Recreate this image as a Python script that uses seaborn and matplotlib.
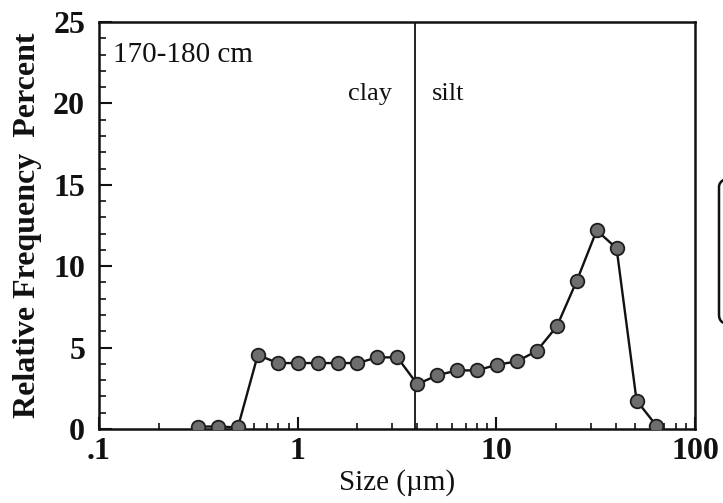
import matplotlib
matplotlib.use("Agg")
import matplotlib.pyplot as plt
from matplotlib.ticker import FixedLocator, FixedFormatter, MultipleLocator, NullFormatter
from matplotlib.patches import FancyBboxPatch
import seaborn as sns
import pandas as pd
import numpy as np

# ---- data ----
size_um = [0.315, 0.397, 0.5, 0.63, 0.794, 1.0, 1.26, 1.587, 2.0, 2.52, 3.175, 4.0,
           5.04, 6.35, 8.0, 10.08, 12.7, 16.0, 20.16, 25.4, 32.0, 40.3, 50.8, 64.0]
rel_freq = [0.15, 0.15, 0.1, 4.55, 4.05, 4.05, 4.05, 4.05, 4.05, 4.4, 4.4, 2.75,
            3.3, 3.6, 3.6, 3.95, 4.15, 4.8, 6.3, 9.1, 12.2, 11.1, 1.75, 0.2]
x_ticks = [0.1, 1, 10, 100]
x_tick_labels = [".1", "1", "10", "100"]
y_ticks = [0, 5, 10, 15, 20, 25]
clay_silt_boundary = 3.9
sample_label = "170-180 cm"

df = pd.DataFrame({"size": size_um, "freq": rel_freq})

sns.set_theme(style="ticks")
plt.rcParams["font.family"] = ["Liberation Serif", "DejaVu Serif"]

fig = plt.figure(figsize=(7.23, 5.03), dpi=100)
ax = fig.add_axes([99 / 723, 1 - 429 / 503, (695 - 99) / 723, (429 - 22) / 503])

sns.lineplot(data=df, x="size", y="freq", ax=ax, color="#111111", linewidth=1.7,
             marker="o", markersize=9.8, markerfacecolor="#6e6e6e",
             markeredgecolor="#1e1e1e", markeredgewidth=1.3, zorder=3)

ax.axvline(clay_silt_boundary, color="#111111", linewidth=1.3, zorder=2)

ax.set_xscale("log")
ax.set_xlim(0.1, 100)
ax.set_ylim(0, 25)

ax.xaxis.set_major_locator(FixedLocator(x_ticks))
ax.xaxis.set_major_formatter(FixedFormatter(x_tick_labels))
ax.xaxis.set_minor_locator(FixedLocator([m * d for d in [0.1, 1, 10] for m in range(2, 10)]))
ax.xaxis.set_minor_formatter(NullFormatter())
ax.yaxis.set_major_locator(FixedLocator(y_ticks))
ax.yaxis.set_minor_locator(MultipleLocator(1))

ax.tick_params(axis="both", which="major", direction="in", length=9, width=1.5,
               color="#111111", labelsize=23, pad=10)
ax.tick_params(axis="both", which="minor", direction="in", length=5, width=1.2,
               color="#111111")
ax.tick_params(axis="x", which="major", pad=6)
ax.tick_params(axis="x", which="minor", length=4)
for lab in ax.get_xticklabels() + ax.get_yticklabels():
    lab.set_fontweight("bold")
    lab.set_color("#111111")

for sp in ax.spines.values():
    sp.set_visible(True)
    sp.set_color("#111111")
    sp.set_linewidth(1.8)

ax.set_xlabel("Size (\u00b5m)", fontsize=21, color="#111111", labelpad=2)
ax.set_ylabel("Relative Frequency  Percent", fontsize=23, fontweight="bold",
              color="#111111", labelpad=8)

ax.text(0.118, 23.0, sample_label, fontsize=21, color="#111111", va="center", ha="left")
ax.text(2.98, 20.6, "clay", fontsize=19, color="#111111", va="center", ha="right")
ax.text(4.74, 20.6, "silt", fontsize=19, color="#111111", va="center", ha="left")

box = FancyBboxPatch((719 / 723, 1 - 325 / 503), 0.05, 148 / 503,
                     boxstyle="round,pad=0,rounding_size=0.02",
                     transform=fig.transFigure, fill=False, edgecolor="#111111",
                     linewidth=1.8, clip_on=False)
fig.patches.append(box)

fig.savefig("out.png", dpi=100)
